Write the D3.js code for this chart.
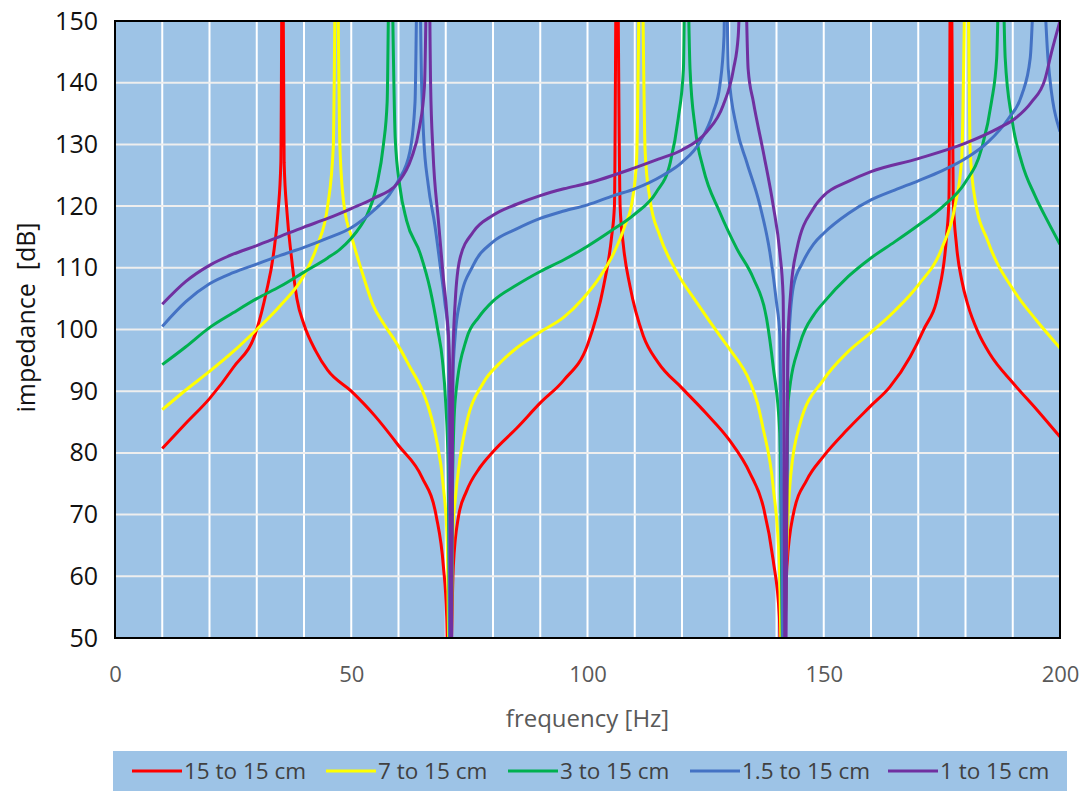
<!DOCTYPE html>
<html lang="en">
<head>
<meta charset="UTF-8">
<title>impedance vs frequency</title>
<script src="https://cdn.jsdelivr.net/npm/d3@7"></script>
<style>
  body { margin: 0; background: #fff; }
  text { font-family: "Open Sans", "Noto Sans", sans-serif; }
</style>
</head>
<body>
<script>
// series names + colours
var names = ["15 to 15 cm", "7 to 15 cm", "3 to 15 cm", "1.5 to 15 cm", "1 to 15 cm"];
var colors = ["#ff0000", "#ffff00", "#00b050", "#4472c4", "#7030a0"];

// values (frequency Hz / impedance dB)
var f15 = [10,15,20,25,30,32,33.5,34.5,35.1,35.45,35.8,36.4,37.3,38.5,40,42.5,45,50,55,60,65,68,69.5,70.2,70.7,71.6,72.7,74.4,77.2,80,85,90,95,100,103.4,105.1,105.7,106.2,106.9,107.6,109,111.8,115,120,125,130,134.4,137.2,139.3,140.6,141.2,142.2,143.6,146.4,149.9,154.9,159.8,164,168.3,171.1,174.3,176,176.5,176.9,177.4,178.1,179.2,180.5,182.7,185.2,190.1,195.1,200];
var z15 = [80.7,84.8,88.8,93.8,100,106,112,119,127,170,127,119,112,105,100.8,96.5,93.4,90,86,81.2,76,69.7,61.6,53.5,35,61.6,69.7,73.8,77.6,80.2,84,88.1,91.8,97.5,107,115,120,170,120,113.6,107,99,94.6,90.5,86.5,82.1,76.7,71.3,62.6,53.5,35,61.6,70.2,75.6,79.4,83.7,87.5,90.7,95.6,99.9,106,115.2,121.2,170,121.2,113.6,108,104,99.5,96,91.3,87,82.6];

var f7 = [10,15,20,25,30,35,40,42.8,45,46.2,46.85,47.6,48.5,50.2,52.3,54.6,56.8,58.9,60.3,62.5,65,66.5,68,69.5,70.3,70.9,71.5,72,73,74.4,77.9,81.5,85,90,95,99,102.6,105.5,108,109.5,110.4,111.3,112.2,113.2,115.3,118.9,123.1,128,130.2,134.4,136,137.1,139.3,140.6,141.4,142.1,142.8,145,149.9,155,159.8,165,170,175,177.8,179.2,180.3,181,182,184.8,190.5,195,200];
var z7 = [87,90.2,93.2,96.4,100,103.9,108.8,113.6,120,129.6,170,129.6,120,114.7,109.3,104,101,98.6,96.9,93.8,90.2,87,82.3,74.5,66,35,67,72.4,79,84.8,91.3,94.6,97,99.6,102,105,108.5,112.3,117,121,127.7,170,128.8,121.2,115.2,109.3,104.4,99,96.7,91.5,88,84.2,74.5,62,35,62,74.5,84.8,91.8,96.3,99.4,103,107.2,113.2,120.1,127.7,170,128.8,121.2,114.2,106,101.5,97];

var f3 = [10,15,20,25,30,35,40,45,47.6,50,52,53.3,55.4,56.8,57.6,58.2,59.3,60.3,61.7,64.6,66.7,67.5,68.3,69.3,70,70.5,70.95,71.5,72,74.4,77,80,85,90,95,100,105,110,114.6,117.5,119.2,120.3,120.8,121.7,122.8,124.5,128,131.6,135.1,137.9,139.3,140.7,141.5,142.5,145,148.1,150,155.2,160,165,170,175,180,183.4,185.5,186.6,187.5,188.4,189.8,191.9,194.7,197.5,200];
var z3 = [94.3,97.2,100.3,102.7,105,107,109.3,111.6,113,114.8,116.8,118.5,123.4,129.9,136.9,170,131.1,123.1,117.7,112.3,106.5,103.5,100,95,88,78,35,78,88.6,98.5,102,104.6,107.2,109.4,111.3,113.5,116,118.7,122.3,127,134.2,142.2,170,142.2,132.6,126.1,119,113.1,108.3,101.8,94,83.2,35,88.6,97.8,102.6,104.4,108.6,111.6,114.2,116.9,119.8,123.9,129.3,136.9,144,170,144,134.2,127.1,121.7,117.4,113.8];

var f1_5 = [10,15,20,25,30,35,40,45,50,54.6,58.2,60,62.4,63.5,64.2,64.9,65.3,66.3,67.7,68.8,69.8,70.5,71,71.5,72,73,75.8,80,85,90,95,100,105.5,110,116,120,123.8,126.6,128,128.9,129.2,129.8,131.6,133.7,136.5,138.6,140,140.7,141.6,142.4,143.6,145.5,147.8,150,155.2,160,165,170,175,180,184.8,189.1,191.9,193.7,195.4,197.5,200];
var z1_5 = [100.5,104.5,107.4,109.2,110.6,112,113.3,114.8,116.5,119.2,122,124.2,128.8,136.9,170,139.5,131.5,123.4,116.9,110.5,104.5,99,35,92,99,104.5,110.4,114.2,116.3,118,119.2,120.2,121.7,122.8,125,127.1,130.4,135.2,139.5,147.6,170,142.2,132.6,127.1,120.1,112.5,104.4,99,35,95,107.1,110.8,113.8,115.6,118.8,121,122.6,124.1,125.7,127.7,130.4,134.2,138,144,170,143.5,132.1];

var f1 = [10,15,20,25,30,35,40,45,50,54.6,60,62.7,64.4,65.5,66.3,66.8,67.3,68.4,69.5,70.2,70.8,71.15,71.5,72,73,75.8,80,85,90,95,100,110,115,120,125.2,128.7,130.9,131.9,133,134,135.1,137.2,139.3,140.7,141.4,141.9,142.4,143,144.3,147.8,150,155.2,160,170,180,186.9,190.5,194,196.8,198.2,200];
var z1 = [104.1,107.8,110.4,112.2,113.6,115.1,116.6,118,119.6,121.2,123.9,127.7,132.6,139.5,170,139.5,128.8,118,108.3,102.9,95,35,95,104.5,111.5,115.8,118.5,120.3,121.7,122.8,123.7,126.2,127.6,129.1,132,136.3,142.2,147.6,170,142.2,136.9,128.8,120.1,112.5,105.5,35,98,106,113,119.6,121.7,124,125.6,127.7,130.2,132.6,134.2,136.9,140.5,144.9,150];

var xTicks = [0, 50, 100, 150, 200];
var yTicks = [50, 60, 70, 80, 90, 100, 110, 120, 130, 140, 150];

var freqs = [f15, f7, f3, f1_5, f1];
var imps = [z15, z7, z3, z1_5, z1];

var W = 1087, H = 791;
var pL = 115, pT = 21, pR = 1060, pB = 638;   // plot area

var svg = d3.select("body").append("svg")
  .attr("width", W)
  .attr("height", H);

var x = d3.scaleLinear().domain([0, 200]).range([pL, pR]);
var y = d3.scaleLinear().domain([50, 150]).range([pB, pT]);

// plot background
svg.append("rect")
  .attr("x", pL).attr("y", pT)
  .attr("width", pR - pL).attr("height", pB - pT)
  .attr("fill", "#9dc3e6");

// grid
svg.append("g").selectAll("line")
  .data(d3.range(10, 200, 10))
  .enter().append("line")
  .attr("x1", function(d){ return x(d); })
  .attr("x2", function(d){ return x(d); })
  .attr("y1", pT).attr("y2", pB)
  .attr("stroke", "#fff").attr("stroke-width", 2);

svg.append("g").selectAll("line")
  .data(yTicks.slice(1, -1))
  .enter().append("line")
  .attr("y1", function(d){ return y(d); })
  .attr("y2", function(d){ return y(d); })
  .attr("x1", pL).attr("x2", pR)
  .attr("stroke", "#eee").attr("stroke-width", 2);

svg.append("clipPath").attr("id", "clip")
  .append("rect")
  .attr("x", pL).attr("y", pT)
  .attr("width", pR - pL).attr("height", pB - pT);

var line = d3.line()
  .x(function(d){ return x(d[0]); })
  .y(function(d){ return y(d[1]); })
  .curve(d3.curveMonotoneX);

var lines = svg.append("g").attr("clip-path", "url(#clip)");
names.forEach(function(n, i) {
  var pts = freqs[i].map(function(f, j){ return [f, imps[i][j]]; });
  lines.append("path")
    .datum(pts)
    .attr("d", line)
    .attr("fill", "none")
    .attr("stroke", colors[i])
    .attr("stroke-width", 3)
    .attr("stroke-linejoin", "round");
});

// frame
svg.append("rect")
  .attr("x", pL).attr("y", pT)
  .attr("width", pR - pL).attr("height", pB - pT)
  .attr("fill", "none")
  .attr("stroke", "#000").attr("stroke-width", 2);

// axes (labels only, Excel style)
var xAxis = svg.append("g")
  .attr("transform", "translate(0," + pB + ")")
  .call(d3.axisBottom(x).tickValues(xTicks).tickSize(0).tickPadding(28));
xAxis.select(".domain").remove();
xAxis.selectAll("text")
  .attr("font-size", 22)
  .attr("fill", "#595959")
  .style("font-family", "'Open Sans', sans-serif");

var yAxis = svg.append("g")
  .attr("transform", "translate(" + pL + ",0)")
  .call(d3.axisLeft(y).tickValues(yTicks).tickSize(0).tickPadding(17));
yAxis.select(".domain").remove();
yAxis.selectAll("text")
  .attr("font-size", 25)
  .attr("fill", "#111")
  .style("font-family", "'Open Sans', sans-serif");

// axis titles
svg.append("text")
  .attr("x", (pL + pR) / 2)
  .attr("y", 727)
  .attr("text-anchor", "middle")
  .attr("font-size", 24)
  .attr("fill", "#595959")
  .text("frequency [Hz]");

svg.append("text")
  .attr("transform", "translate(35," + ((pT + pB) / 2 - 12) + ") rotate(-90)")
  .attr("text-anchor", "middle")
  .attr("font-size", 25)
  .attr("fill", "#111")
  .style("white-space", "pre")
  .text("impedance  [dB]");

// legend
svg.append("rect")
  .attr("x", 113).attr("y", 751)
  .attr("width", 954).attr("height", 40)
  .attr("fill", "#9dc3e6");

var legX = [132, 326, 508, 690, 888];
var leg = svg.append("g").selectAll("g")
  .data(names)
  .enter().append("g")
  .attr("transform", function(d, i){ return "translate(" + legX[i] + ",771)"; });

leg.append("line")
  .attr("x1", 0).attr("x2", 50)
  .attr("stroke", function(d, i){ return colors[i]; })
  .attr("stroke-width", 3);

leg.append("text")
  .attr("x", 52)
  .attr("dy", "0.35em")
  .attr("font-size", 22.5)
  .attr("fill", "#404040")
  .text(function(d){ return d; });
</script>
</body>
</html>
